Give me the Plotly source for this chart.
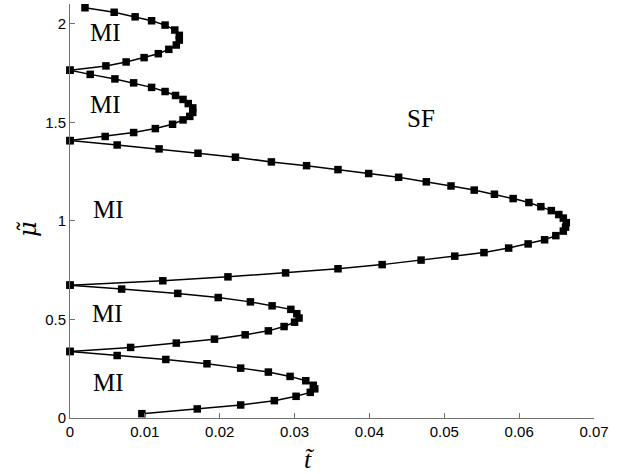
import plotly.graph_objects as go

# Phase boundary of the Mott-insulator lobes: hopping t~ versus chemical potential mu~
lobe1_t = [0.0096, 0.0170, 0.0228, 0.0273, 0.0302, 0.0321, 0.0327, 0.0325, 0.0315,
           0.0294, 0.0265, 0.0228, 0.0183, 0.0128, 0.0063, 0.0]
lobe1_mu = [0.022, 0.046, 0.066, 0.088, 0.110, 0.130, 0.148, 0.166, 0.189,
            0.211, 0.233, 0.253, 0.275, 0.297, 0.317, 0.3375]

lobe2_t = [0.0, 0.0081, 0.0142, 0.0193, 0.0234, 0.0265, 0.0286, 0.0300, 0.0306,
           0.0303, 0.0295, 0.0270, 0.0241, 0.0198, 0.0144, 0.0069, 0.0]
lobe2_mu = [0.3375, 0.358, 0.380, 0.400, 0.422, 0.442, 0.464, 0.486, 0.507,
            0.529, 0.551, 0.569, 0.589, 0.611, 0.632, 0.654, 0.674]

lobe3_t = [0.0, 0.0124, 0.0211, 0.0288, 0.0358, 0.0417, 0.0469, 0.0514, 0.0553,
           0.0586, 0.0612, 0.0634, 0.0649, 0.0659, 0.0662, 0.0663, 0.0659, 0.0653,
           0.0643, 0.0629, 0.0613, 0.0592, 0.0567, 0.0540, 0.0509, 0.0476, 0.0439,
           0.0399, 0.0358, 0.0316, 0.0269, 0.0221, 0.0171, 0.0119, 0.0063, 0.0]
lobe3_mu = [0.674, 0.696, 0.716, 0.736, 0.757, 0.778, 0.801, 0.821, 0.839,
            0.862, 0.883, 0.904, 0.925, 0.948, 0.968, 0.991, 1.014, 1.032,
            1.052, 1.072, 1.093, 1.113, 1.135, 1.156, 1.177, 1.198, 1.221,
            1.240, 1.260, 1.280, 1.299, 1.323, 1.343, 1.365, 1.385, 1.407]

lobe4_t = [0.0, 0.0047, 0.0085, 0.0114, 0.0137, 0.0151, 0.0160, 0.0164, 0.0164,
           0.0158, 0.0151, 0.0141, 0.0127, 0.0109, 0.0085, 0.0060, 0.0027, 0.0]
lobe4_mu = [1.407, 1.428, 1.448, 1.468, 1.490, 1.512, 1.530, 1.550, 1.573,
            1.595, 1.616, 1.636, 1.656, 1.677, 1.700, 1.720, 1.743, 1.764]

lobe5_t = [0.0, 0.0048, 0.0075, 0.0099, 0.0118, 0.0132, 0.0142, 0.0146, 0.0146,
           0.0140, 0.0127, 0.0109, 0.0087, 0.0059, 0.0020]
lobe5_mu = [1.764, 1.786, 1.806, 1.828, 1.848, 1.870, 1.892, 1.917, 1.941,
            1.968, 1.993, 2.015, 2.035, 2.058, 2.081]

x_ticks = [0, 0.01, 0.02, 0.03, 0.04, 0.05, 0.06, 0.07]
x_tick_text = ["0", "0.01", "0.02", "0.03", "0.04", "0.05", "0.06", "0.07"]
y_ticks = [0, 0.5, 1, 1.5, 2]
y_tick_text = ["0", "0.5", "1", "1.5", "2"]

# Phase labels (text, t~, mu~)
phase_labels = [
    ("MI", 0.0048, 1.955),
    ("MI", 0.0048, 1.590),
    ("MI", 0.0051, 1.060),
    ("MI", 0.0050, 0.530),
    ("MI", 0.0051, 0.180),
    ("SF", 0.0469, 1.520),
]

fig = go.Figure()
for t_vals, mu_vals in [(lobe1_t, lobe1_mu), (lobe2_t, lobe2_mu), (lobe3_t, lobe3_mu),
                        (lobe4_t, lobe4_mu), (lobe5_t, lobe5_mu)]:
    fig.add_trace(go.Scatter(
        x=t_vals, y=mu_vals, mode="lines+markers",
        line=dict(color="black", width=1.5),
        marker=dict(symbol="square", size=7.5, color="black"),
        cliponaxis=False, showlegend=False, hoverinfo="skip",
    ))

for text, tx, my in phase_labels:
    fig.add_annotation(x=tx, y=my, xref="x", yref="y", text=text, showarrow=False,
                       font=dict(family="Liberation Serif, Times New Roman, serif",
                                 size=25, color="black"),
                       xanchor="center", yanchor="middle")

# Axis labels
fig.add_annotation(x=0.458, y=-0.100, xref="paper", yref="paper", text="<i>t\u0303</i>",
                   showarrow=False, xanchor="center", yanchor="middle",
                   font=dict(family="Liberation Serif, DejaVu Serif, serif", size=26, color="black"))
fig.add_annotation(x=-0.080, y=0.457, xref="paper", yref="paper", text="<i>\u03bc\u0303</i>",
                   showarrow=False, xanchor="center", yanchor="middle", textangle=-90,
                   font=dict(family="DejaVu Serif, serif", size=24, color="black"))

axis_common = dict(
    showline=True, linecolor="#707070", linewidth=1,
    ticks="inside", ticklen=5, tickcolor="#707070", tickwidth=1,
    showgrid=False, zeroline=False,
    tickfont=dict(family="Liberation Sans, Arial, sans-serif", size=15, color="black"),
)

fig.update_layout(
    width=638, height=474,
    margin=dict(l=70, r=44, t=4, b=56),
    paper_bgcolor="white", plot_bgcolor="white",
    xaxis=dict(range=[0, 0.07], tickmode="array", tickvals=x_ticks, ticktext=x_tick_text,
               **axis_common),
    yaxis=dict(range=[0, 2.1], tickmode="array", tickvals=y_ticks, ticktext=y_tick_text,
               **axis_common),
)

fig.write_html("out.html")
